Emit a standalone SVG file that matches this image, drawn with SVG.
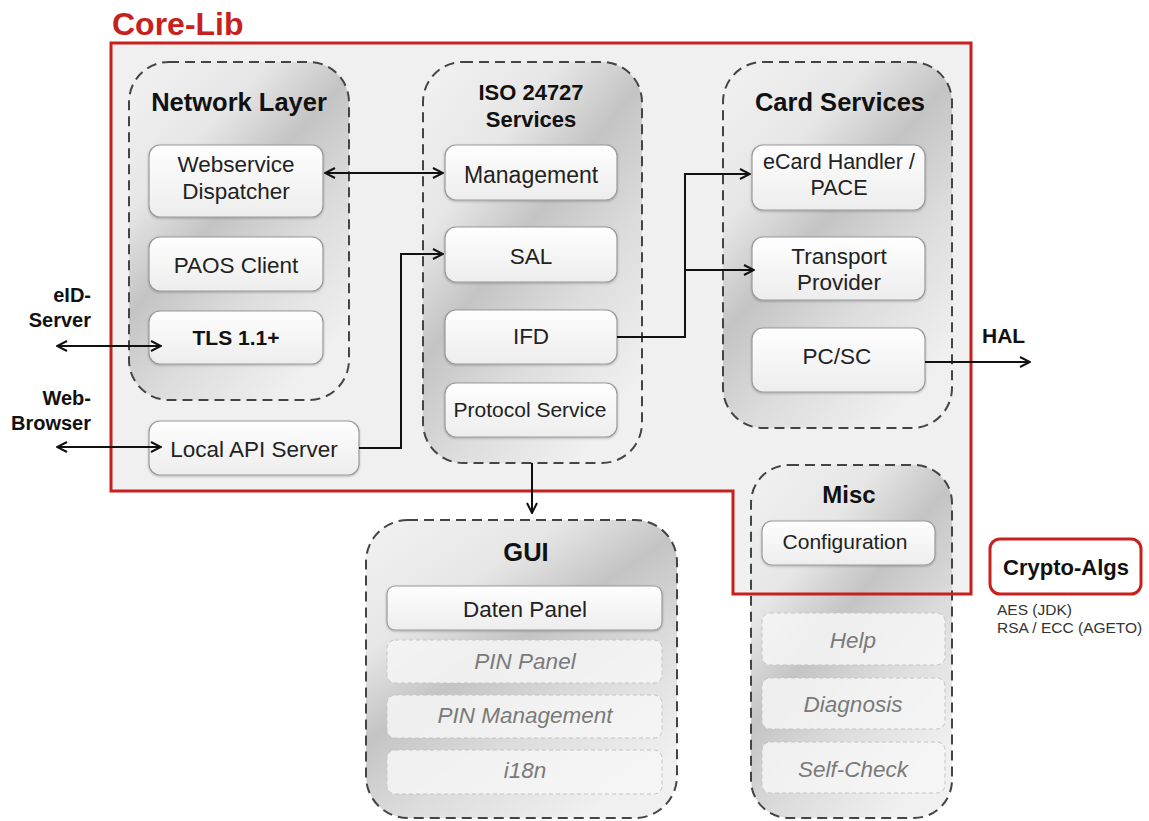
<svg xmlns="http://www.w3.org/2000/svg" width="1149" height="821" viewBox="0 0 1149 821">
<defs>
<linearGradient id="cont" x1="0" y1="0" x2="0.7" y2="1">
<stop offset="0" stop-color="#f2f2f2"/>
<stop offset="0.3" stop-color="#e6e6e6"/>
<stop offset="0.5" stop-color="#c4c4c4"/>
<stop offset="0.72" stop-color="#dcdcdc"/>
<stop offset="1" stop-color="#f0f0f0"/>
</linearGradient>
<linearGradient id="box" x1="0" y1="0" x2="0" y2="1">
<stop offset="0" stop-color="#fefefe"/>
<stop offset="1" stop-color="#ededed"/>
</linearGradient>
<marker id="arr" viewBox="0 0 12 12" refX="11" refY="6" markerWidth="12" markerHeight="12" markerUnits="userSpaceOnUse" orient="auto-start-reverse">
<path d="M1,1 L11,6 L1,11" fill="none" stroke="#111" stroke-width="2"/>
</marker>
<filter id="sh" x="-10%" y="-10%" width="120%" height="130%">
<feDropShadow dx="0" dy="1" stdDeviation="1" flood-color="#000" flood-opacity="0.25"/>
</filter>
</defs>
<style>
.cont{fill:url(#cont);stroke:#444;stroke-width:2;stroke-dasharray:10 6}
.box{fill:url(#box);stroke:#9a9a9a;stroke-width:1.2;filter:url(#sh)}
.gbox{fill:#f6f6f6;fill-opacity:0.85;stroke:#c4c4c4;stroke-width:1;stroke-dasharray:4 3}
.t{font-family:"Liberation Sans",Arial,sans-serif;font-size:22.5px;fill:#222;text-anchor:middle}
.g{font-family:"Liberation Sans",Arial,sans-serif;font-size:22.5px;fill:#7a7a7a;font-style:italic;text-anchor:middle}
.h{font-family:"Liberation Sans",Arial,sans-serif;font-size:25.5px;font-weight:bold;fill:#111;text-anchor:middle}
.l{font-family:"Liberation Sans",Arial,sans-serif;font-size:20px;font-weight:bold;fill:#111;text-anchor:end}
.c{fill:none;stroke:#111;stroke-width:2}
</style>
<polygon points="111,43 971,43 971,594 733,594 733,491 111,491" fill="#f0f0f0"/>
<text x="112" y="35" style="font-family:'Liberation Sans',Arial,sans-serif;font-size:32px;font-weight:bold;fill:#c8201c">Core-Lib</text>

<g id="network-layer">
<rect class="cont" x="129" y="62" width="220" height="338" rx="40"/>
<text class="h" x="239" y="111">Network Layer</text>
</g>
<g id="webservice-dispatcher">
<rect class="box" x="149" y="145" width="174" height="72" rx="11"/>
<text class="t" x="236" y="172">Webservice</text>
<text class="t" x="236" y="199">Dispatcher</text>
</g>
<g id="paos-client">
<rect class="box" x="149" y="237" width="174" height="54" rx="11"/>
<text class="t" x="236" y="273">PAOS Client</text>
</g>
<g id="tls">
<rect class="box" x="149" y="311" width="174" height="53" rx="11"/>
<text class="t" x="236" y="345" style="font-weight:bold;fill:#111;font-size:21px">TLS 1.1+</text>
</g>
<g id="local-api-server">
<rect class="box" x="149" y="421" width="210" height="54" rx="11"/>
<text class="t" x="254" y="457">Local API Server</text>
</g>

<g id="iso-services">
<rect class="cont" x="423" y="62" width="219" height="401" rx="40"/>
<text class="h" x="531" y="100" style="font-size:22px">ISO 24727</text>
<text class="h" x="531" y="127" style="font-size:22px">Services</text>
</g>
<g id="management">
<rect class="box" x="445" y="145" width="172" height="55" rx="11"/>
<text class="t" x="531" y="183" style="font-size:23px">Management</text>
</g>
<g id="sal">
<rect class="box" x="445" y="227" width="172" height="55" rx="11"/>
<text class="t" x="531" y="264">SAL</text>
</g>
<g id="ifd">
<rect class="box" x="445" y="310" width="172" height="54" rx="11"/>
<text class="t" x="531" y="344">IFD</text>
</g>
<g id="protocol-service">
<rect class="box" x="445" y="383" width="172" height="54" rx="11"/>
<text class="t" x="530" y="417" style="font-size:21px">Protocol Service</text>
</g>

<g id="card-services">
<rect class="cont" x="723" y="62" width="229" height="366" rx="40"/>
<text class="h" x="840" y="111">Card Services</text>
</g>
<g id="ecard-handler">
<rect class="box" x="752" y="145" width="173" height="65" rx="11"/>
<text class="t" x="839" y="169" style="font-size:21.5px">eCard Handler /</text>
<text class="t" x="839" y="195" style="font-size:21.5px">PACE</text>
</g>
<g id="transport-provider">
<rect class="box" x="752" y="237" width="173" height="63" rx="11"/>
<text class="t" x="839" y="264">Transport</text>
<text class="t" x="839" y="290">Provider</text>
</g>
<g id="pcsc">
<rect class="box" x="752" y="328" width="173" height="64" rx="11"/>
<text class="t" x="837" y="364">PC/SC</text>
</g>

<g id="misc">
<rect class="cont" x="751" y="465" width="201" height="353" rx="38"/>
<text class="h" x="849" y="503" style="font-size:24px">Misc</text>
</g>
<g id="configuration">
<rect class="box" x="762" y="521" width="173" height="44" rx="10"/>
<text class="t" x="845" y="549" style="font-size:21px">Configuration</text>
</g>
<g id="help">
<rect class="gbox" x="762" y="613" width="183" height="52" rx="8"/>
<text class="g" x="853" y="648">Help</text>
</g>
<g id="diagnosis">
<rect class="gbox" x="762" y="678" width="183" height="51" rx="8"/>
<text class="g" x="853" y="712">Diagnosis</text>
</g>
<g id="self-check">
<rect class="gbox" x="762" y="742" width="183" height="51" rx="8"/>
<text class="g" x="853" y="777">Self-Check</text>
</g>

<g id="gui">
<rect class="cont" x="366" y="520" width="311" height="298" rx="42"/>
<text class="h" x="526" y="561">GUI</text>
</g>
<g id="daten-panel">
<rect class="box" x="387" y="586" width="275" height="44" rx="8"/>
<text class="t" x="525" y="617">Daten Panel</text>
</g>
<g id="pin-panel">
<rect class="gbox" x="387" y="640" width="275" height="43" rx="8"/>
<text class="g" x="525" y="669">PIN Panel</text>
</g>
<g id="pin-management">
<rect class="gbox" x="387" y="695" width="275" height="43" rx="8"/>
<text class="g" x="525" y="723">PIN Management</text>
</g>
<g id="i18n">
<rect class="gbox" x="387" y="750" width="275" height="44" rx="8"/>
<text class="g" x="525" y="778">i18n</text>
</g>

<polygon points="111,43 971,43 971,594 733,594 733,491 111,491" fill="none" stroke="#c8201c" stroke-width="3"/>

<g id="crypto-algs">
<rect x="990" y="539" width="151" height="55" rx="10" fill="#fff" stroke="#c8201c" stroke-width="3"/>
<text x="1066" y="575" style="font-family:'Liberation Sans',Arial,sans-serif;font-size:22px;font-weight:bold;fill:#111;text-anchor:middle">Crypto-Algs</text>
<text x="997" y="615" style="font-family:'Liberation Sans',Arial,sans-serif;font-size:15.5px;fill:#333">AES (JDK)</text>
<text x="997" y="633" style="font-family:'Liberation Sans',Arial,sans-serif;font-size:15.5px;fill:#333">RSA / ECC (AGETO)</text>
</g>

<g id="connectors">
<line class="c" x1="325" y1="173" x2="443" y2="173" marker-start="url(#arr)" marker-end="url(#arr)"/>
<polyline class="c" points="359,448 401,448 401,254 443,254" marker-end="url(#arr)"/>
<polyline class="c" points="617,337 685,337 685,174 750,174" marker-end="url(#arr)"/>
<line class="c" x1="685" y1="270" x2="754" y2="270" marker-end="url(#arr)"/>
<line class="c" x1="925" y1="362" x2="1030" y2="362" marker-end="url(#arr)"/>
<line class="c" x1="57" y1="346" x2="161" y2="346" marker-start="url(#arr)" marker-end="url(#arr)"/>
<line class="c" x1="57" y1="447" x2="161" y2="447" marker-start="url(#arr)" marker-end="url(#arr)"/>
<line class="c" x1="532" y1="463" x2="532" y2="513" marker-end="url(#arr)"/>
</g>

<g id="labels">
<text class="l" x="91" y="302">eID-</text>
<text class="l" x="91" y="327">Server</text>
<text class="l" x="91" y="405">Web-</text>
<text class="l" x="91" y="430">Browser</text>
<text x="982" y="343" style="font-family:'Liberation Sans',Arial,sans-serif;font-size:21px;font-weight:bold;fill:#111">HAL</text>
</g>
</svg>
